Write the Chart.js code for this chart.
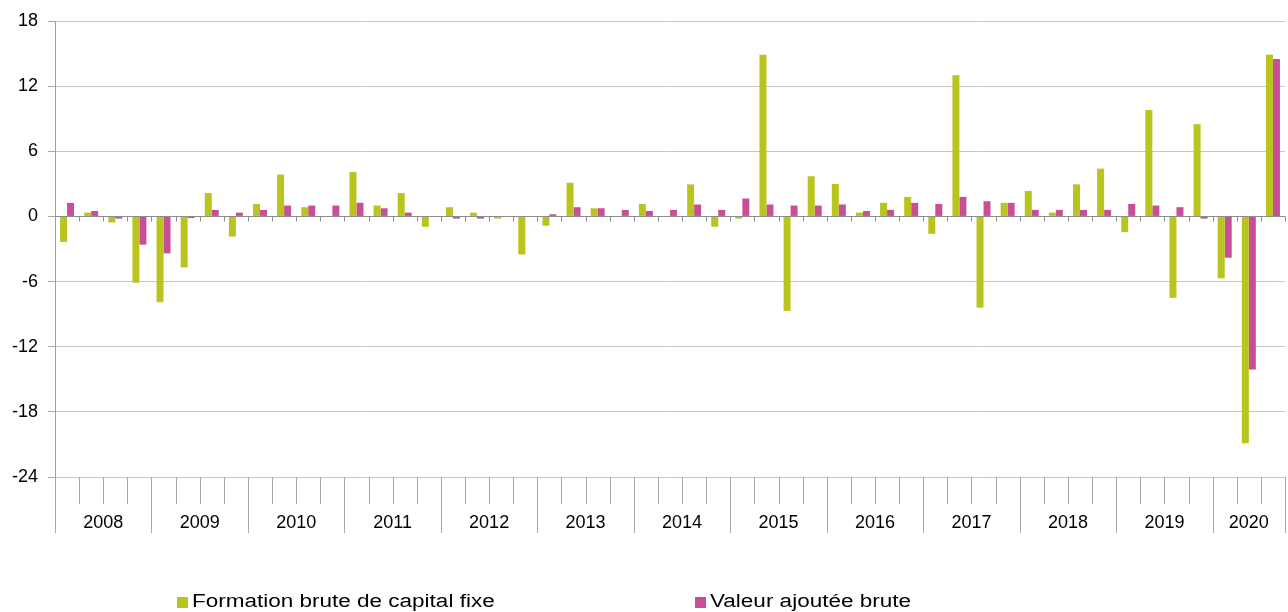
<!DOCTYPE html>
<html>
<head>
<meta charset="utf-8">
<script src="https://cdn.jsdelivr.net/npm/chart.js@4.4.1/dist/chart.umd.min.js"></script>
<style>
  html, body { margin: 0; padding: 0; background: #fff; }
  #wrap { position: relative; width: 1288px; height: 612px; }
</style>
</head>
<body>
<div id="wrap"><canvas id="chart"></canvas></div>
<script>
// ---- data ----
const years = ['2008','2009','2010','2011','2012','2013','2014','2015','2016','2017','2018','2019','2020'];
const quartersPerYear = [4,4,4,4,4,4,4,4,4,4,4,4,3];

const fbcf = [
  -2.35, 0.35, -0.55, -6.1,
  -7.9, -4.7, 2.15, -1.85,
  1.15, 3.85, 0.85, 0.05,
  4.1, 1.0, 2.15, -0.95,
  0.85, 0.35, -0.2, -3.5,
  -0.85, 3.1, 0.75, 0.05,
  1.15, 0.05, 2.95, -0.95,
  -0.2, 14.9, -8.7, 3.7,
  3.0, 0.35, 1.25, 1.8,
  -1.6, 13.0, -8.4, 1.25,
  2.35, 0.35, 2.95, 4.4,
  -1.45, 9.8, -7.5, 8.5,
  -5.7, -20.9, 14.9
];
const vab = [
  1.25, 0.5, -0.2, -2.6,
  -3.4, -0.15, 0.6, 0.35,
  0.6, 1.0, 1.0, 1.0,
  1.25, 0.75, 0.35, -0.05,
  -0.2, -0.2, -0.05, -0.05,
  0.2, 0.85, 0.75, 0.6,
  0.5, 0.6, 1.1, 0.6,
  1.65, 1.1, 1.0, 1.0,
  1.1, 0.5, 0.6, 1.25,
  1.15, 1.8, 1.4, 1.25,
  0.6, 0.6, 0.6, 0.6,
  1.15, 1.0, 0.85, -0.2,
  -3.8, -14.1, 14.5
];
const seriesNames = ['Formation brute de capital fixe', 'Valeur ajoutée brute'];
const seriesColors = ['#b9c41e', '#c84e98'];

const labels = [];
years.forEach((y, i) => {
  for (let q = 1; q <= quartersPerYear[i]; q++) labels.push(y + ' T' + q);
});

const FONT = "'Liberation Sans', Arial, sans-serif";
Chart.defaults.font.family = FONT;
Chart.defaults.color = '#000';

// axis decorations, year row and legend
const decorPlugin = {
  id: 'decor',
  afterDraw(chart) {
    const ctx = chart.ctx;
    const y = chart.scales.y;
    const area = chart.chartArea;
    const n = labels.length;
    const step = (area.right - area.left) / n;
    const y0 = Math.round(y.getPixelForValue(0)) + 0.5;

    ctx.save();
    // zero line with small ticks
    ctx.strokeStyle = '#8c8c8c';
    ctx.lineWidth = 1;
    ctx.beginPath();
    ctx.moveTo(area.left, y0);
    ctx.lineTo(area.right, y0);
    for (let i = 1; i <= n; i++) {
      const bx = Math.round(area.left + i * step) + 0.5;
      ctx.moveTo(bx, y0);
      ctx.lineTo(bx, y0 + 5);
    }
    ctx.stroke();

    // category boundaries below the plot
    const yb = area.bottom;
    ctx.strokeStyle = '#a6a6a6';
    ctx.beginPath();
    let idx = 0;
    const yearStarts = [0];
    quartersPerYear.forEach(c => { idx += c; yearStarts.push(idx); });
    for (let i = 0; i <= n; i++) {
      const bx = Math.round(area.left + i * step) + 0.5;
      const isYear = yearStarts.includes(i);
      ctx.moveTo(bx, yb);
      ctx.lineTo(bx, isYear ? yb + 56 : yb + 27);
    }
    ctx.stroke();

    // year labels
    ctx.fillStyle = '#000';
    ctx.font = '18px ' + FONT;
    ctx.textAlign = 'center';
    ctx.textBaseline = 'middle';
    years.forEach((yr, i) => {
      const cx = area.left + (yearStarts[i] + yearStarts[i + 1]) / 2 * step;
      ctx.fillText(yr, cx, yb + 46);
    });

    // legend (text in the original is drawn wide)
    const legendX = [177, 695];
    const stretch = 1.25;
    ctx.textAlign = 'left';
    ctx.textBaseline = 'alphabetic';
    seriesNames.forEach((name, i) => {
      ctx.fillStyle = seriesColors[i];
      ctx.fillRect(legendX[i], 597, 11, 11);
      ctx.fillStyle = '#000';
      ctx.save();
      ctx.translate(legendX[i] + 15, 607);
      ctx.scale(stretch, 1);
      ctx.fillText(name, 0, 0);
      ctx.restore();
    });
    ctx.restore();
  }
};

new Chart(document.getElementById('chart'), {
  type: 'bar',
  data: {
    labels,
    datasets: [
      { label: seriesNames[0], data: fbcf, backgroundColor: seriesColors[0], borderWidth: 0 },
      { label: seriesNames[1], data: vab, backgroundColor: seriesColors[1], borderWidth: 0 }
    ]
  },
  options: {
    responsive: true, maintainAspectRatio: false,
    animation: false,
    datasets: { bar: { categoryPercentage: 0.58, barPercentage: 1.0 } },
    layout: { padding: { top: 21, right: 3, bottom: 135, left: 0 } },
    plugins: { legend: { display: false }, tooltip: { enabled: false } },
    scales: {
      x: { display: false, grid: { display: false } },
      y: {
        min: -24, max: 18,
        ticks: { stepSize: 6, font: { size: 18 }, color: '#000', padding: 10 },
        grid: { color: '#c6c6c6', tickLength: 7, tickColor: '#a6a6a6' },
        border: { color: '#a0a0a0' },
        afterFit(scale) { scale.width = 55; }
      }
    }
  },
  plugins: [decorPlugin]
});
</script>
</body>
</html>
